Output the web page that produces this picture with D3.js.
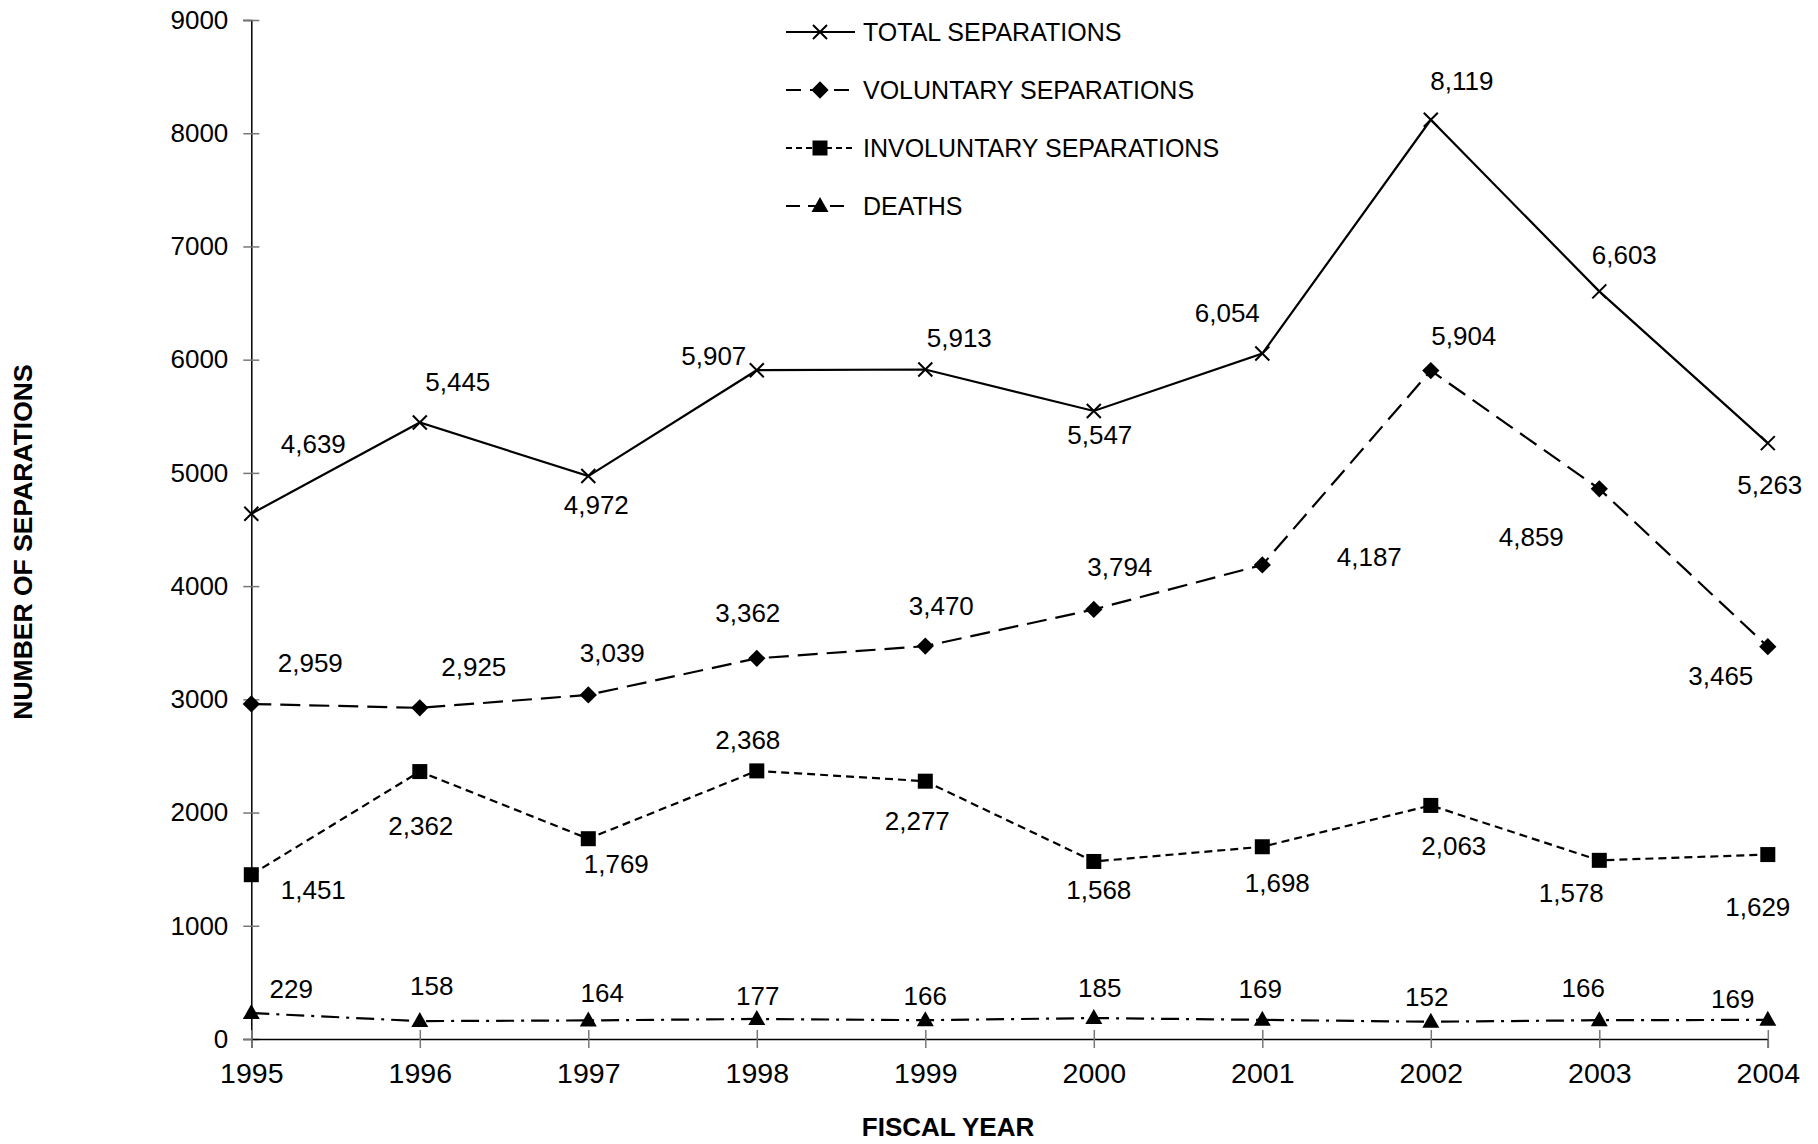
<!DOCTYPE html>
<html><head><meta charset="utf-8">
<script src="https://cdn.jsdelivr.net/npm/d3@7"></script>
<style>body{margin:0;background:#fff}svg{display:block}text{font-family:Arial,"Liberation Sans",sans-serif;fill:#000}</style>
</head><body>
<svg id="c" width="1818" height="1144"></svg>
<script>
const years = [1995,1996,1997,1998,1999,2000,2001,2002,2003,2004];
const totalSep = [4639,5445,4972,5907,5913,5547,6054,8119,6603,5263];
const voluntarySep = [2959,2925,3039,3362,3470,3794,4187,5904,4859,3465];
const involuntarySep = [1451,2362,1769,2368,2277,1568,1698,2063,1578,1629];
const deaths = [229,158,164,177,166,185,169,152,166,169];
const yTicks = [0,1000,2000,3000,4000,5000,6000,7000,8000,9000];
const seriesNames = ["TOTAL SEPARATIONS","VOLUNTARY SEPARATIONS","INVOLUNTARY SEPARATIONS","DEATHS"];

// label offsets (styling/placement, not data)
const offTotal = [[62,-70],[38,-41],[8,29],[-43,-14],[34,-32],[6,24],[-35,-41],[31,-39],[25,-36],[2,42]];
const offVol = [[59,-41],[54,-41],[24,-42],[-9,-45],[16,-40],[26,-42],[107,-8],[33,-35],[-68,48],[-47,29]];
const offInv = [[62,15],[1,54],[28,25],[-9,-31],[-8,40],[5,29],[15,36],[23,41],[-28,33],[-10,52]];
const offDeath = [[40,-24],[12,-35],[14,-27],[1,-23],[0,-24],[6,-30],[-2,-31],[-4,-25],[-16,-32],[-35,-21]];

const svg = d3.select("#c");
const x = d3.scaleLinear().domain([1995,2004]).range([251.3,1767.8]);
const y = d3.scaleLinear().domain([0,9000]).range([1039,20]);

// axes
const gy = svg.append("g").attr("transform","translate(251.3,0)")
  .call(d3.axisLeft(y).tickValues(yTicks).tickSize(8).tickPadding(23).tickFormat(d3.format("d")));
gy.select(".domain").attr("stroke","#000").attr("stroke-width",1.5);
gy.selectAll(".tick line").attr("x2",8).attr("x1",-8).attr("stroke","#777").attr("stroke-width",1.5);
gy.selectAll(".tick text").attr("font-size",26).attr("font-family","Arial, 'Liberation Sans', sans-serif").attr("x",-23);

const gx = svg.append("g").attr("transform","translate(0,1039)")
  .call(d3.axisBottom(x).tickValues(years).tickSize(9).tickPadding(14).tickFormat(d3.format("d")));
gx.select(".domain").attr("stroke","#000").attr("stroke-width",1.5);
gx.selectAll(".tick line").attr("y1",-9).attr("y2",9).attr("stroke","#777").attr("stroke-width",1.5);
gx.selectAll(".tick text").attr("font-size",28.5).attr("font-family","Arial, 'Liberation Sans', sans-serif").attr("dy","0.75em");

// axis titles
svg.append("text").attr("x",948).attr("y",1136).attr("text-anchor","middle")
  .attr("font-size",26).attr("font-weight","bold").text("FISCAL YEAR");
svg.append("text").attr("transform","translate(32,542) rotate(-90)").attr("text-anchor","middle")
  .attr("font-size",26.5).attr("font-weight","bold").text("NUMBER OF SEPARATIONS");

const line = d3.line().x((d,i)=>x(years[i])).y(d=>y(d));
const fmt = d3.format(",");

const styles = [
  {data: totalSep, dash:null, marker:"x", off:offTotal},
  {data: voluntarySep, dash:"20,9", marker:"diamond", off:offVol},
  {data: involuntarySep, dash:"8,5", marker:"square", off:offInv},
  {data: deaths, dash:"18,7,3,7", marker:"triangle", off:offDeath}
];

function drawMarker(g, type, cx, cy){
  if(type==="x"){
    const s=7;
    g.append("path").attr("d",`M${cx-s},${cy-s}L${cx+s},${cy+s}M${cx-s},${cy+s}L${cx+s},${cy-s}`)
      .attr("stroke","#000").attr("stroke-width",2).attr("fill","none");
  } else if(type==="diamond"){
    g.append("path").attr("d",d3.symbol(d3.symbolDiamond2,190)()).attr("transform",`translate(${cx},${cy})`).attr("fill","#000");
  } else if(type==="square"){
    g.append("rect").attr("x",cx-7.5).attr("y",cy-7.5).attr("width",15).attr("height",15).attr("fill","#000");
  } else {
    g.append("path").attr("d",`M${cx},${cy-9}L${cx+8.5},${cy+6}L${cx-8.5},${cy+6}Z`).attr("fill","#000");
  }
}

styles.forEach(s=>{
  const g = svg.append("g");
  g.append("path").datum(s.data).attr("d",line).attr("fill","none").attr("stroke","#000")
    .attr("stroke-width",2.2).attr("stroke-dasharray",s.dash);
  s.data.forEach((v,i)=>drawMarker(g,s.marker,x(years[i]),y(v)));
  g.selectAll("text.lbl").data(s.data).enter().append("text").attr("class","lbl")
    .attr("x",(d,i)=>x(years[i])+s.off[i][0]).attr("y",(d,i)=>y(d)+s.off[i][1])
    .attr("text-anchor","middle").attr("dominant-baseline","central").attr("font-size",26)
    .text(d=>fmt(d));
});

// legend
const leg = svg.append("g");
seriesNames.forEach((n,i)=>{
  const cy = 32 + i*58;
  const st = styles[i];
  let x1=786, x2=855;
  if(i===3) x2=846;
  leg.append("line").attr("x1",x1).attr("x2",x2).attr("y1",cy).attr("y2",cy).attr("stroke","#000")
    .attr("stroke-width",2.2).attr("stroke-dasharray", i===1?"15,9": i===2?"6,4": i===3?"14,8": null);
  drawMarker(leg, st.marker, 820, cy);
  leg.append("text").attr("x",863).attr("y",cy).attr("dominant-baseline","central").attr("font-size",25).text(n);
});
</script>
</body></html>
